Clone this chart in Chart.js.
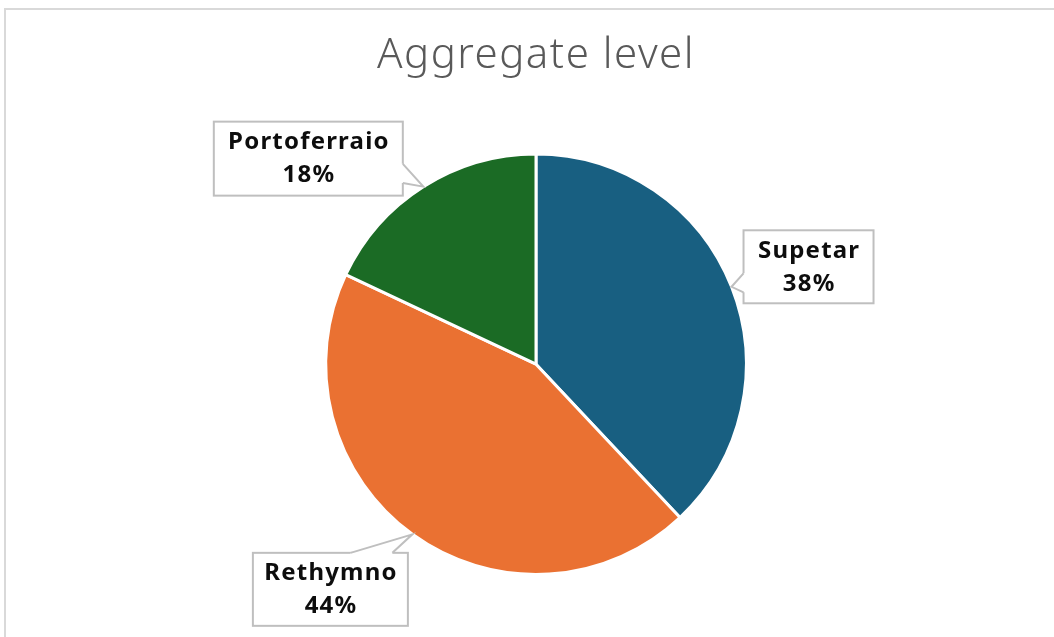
<!DOCTYPE html>
<html>
<head>
<meta charset="utf-8">
<script src="https://cdn.jsdelivr.net/npm/chart.js@4"></script>
<style>
  html, body { margin: 0; padding: 0; background: #fff; overflow: hidden; }
  #frame { position: absolute; left: 4px; top: 8px; width: 1200px; height: 800px; border: 2px solid #d9d9d9; }
  #wrap { position: absolute; left: 0; top: 0; width: 1054px; height: 637px; }
</style>
</head>
<body>
<div id="frame"></div>
<div id="wrap"><canvas id="chart"></canvas></div>
<script>
  const categories = ["Supetar", "Rethymno", "Portoferraio"];
  const shares = [38, 44, 18];
  const sliceColors = ["#185f81", "#ea7132", "#1b6b25"];

  // callout boxes, placed relative to the tip on the slice edge
  const callouts = [
    { dx: 77, dy: -20, w: 130, h: 73, side: "left", from: 0.59, to: 0.85 },
    { dx: -82, dy: 55, w: 155, h: 73, side: "top", from: 0.63, to: 0.9 },
    { dx: -115, dy: -28, w: 189, h: 74, side: "right", from: 0.57, to: 0.83 },
  ];

  // wider title lettering, closer to the original font
  const spacingPlugin = {
    id: "spacing",
    beforeDraw(chart) { chart.ctx.letterSpacing = "1.5px"; },
    beforeDatasetsDraw(chart) { chart.ctx.letterSpacing = "0px"; },
  };

  const calloutPlugin = {
    id: "callouts",
    afterDatasetsDraw(chart) {
      const { ctx } = chart;
      const meta = chart.getDatasetMeta(0);
      meta.data.forEach((arc, i) => {
        const c = callouts[i];
        const mid = (arc.startAngle + arc.endAngle) / 2;
        const tx = arc.x + Math.cos(mid) * arc.outerRadius;
        const ty = arc.y + Math.sin(mid) * arc.outerRadius;
        const cx = tx + c.dx, cy = ty + c.dy;
        const x0 = cx - c.w / 2, y0 = cy - c.h / 2;

        ctx.save();
        ctx.lineWidth = 2;
        ctx.strokeStyle = "#bfbfbf";
        ctx.fillStyle = "#fff";
        ctx.fillRect(x0, y0, c.w, c.h);
        ctx.strokeRect(x0, y0, c.w, c.h);

        let a, b, ai, bi;
        if (c.side === "left") {
          a = [x0, y0 + c.h * c.from]; b = [x0, y0 + c.h * c.to];
          ai = [a[0] + 2, a[1]]; bi = [b[0] + 2, b[1]];
        } else if (c.side === "right") {
          a = [x0 + c.w, y0 + c.h * c.from]; b = [x0 + c.w, y0 + c.h * c.to];
          ai = [a[0] - 2, a[1]]; bi = [b[0] - 2, b[1]];
        } else {
          a = [x0 + c.w * c.from, y0]; b = [x0 + c.w * c.to, y0];
          ai = [a[0], a[1] + 2]; bi = [b[0], b[1] + 2];
        }
        ctx.beginPath();
        ctx.moveTo(ai[0], ai[1]);
        ctx.lineTo(a[0], a[1]);
        ctx.lineTo(tx, ty);
        ctx.lineTo(b[0], b[1]);
        ctx.lineTo(bi[0], bi[1]);
        ctx.closePath();
        ctx.fill();
        ctx.beginPath();
        ctx.moveTo(a[0], a[1]);
        ctx.lineTo(tx, ty);
        ctx.lineTo(b[0], b[1]);
        ctx.stroke();

        ctx.fillStyle = "#0d0d0d";
        ctx.font = "bold 24px 'Noto Sans', sans-serif";
        ctx.letterSpacing = "1.2px";
        ctx.textAlign = "center";
        ctx.textBaseline = "middle";
        ctx.fillText(categories[i], cx + 0.6, cy - 16);
        ctx.fillText(shares[i] + "%", cx + 0.6, cy + 17);
        ctx.restore();
      });
    },
  };

  new Chart(document.getElementById("chart"), {
    type: "pie",
    data: {
      labels: categories,
      datasets: [{
        data: shares,
        backgroundColor: sliceColors,
        borderColor: "#fff",
        borderWidth: 3,
      }],
    },
    options: {
      responsive: true,
      maintainAspectRatio: false,
      animation: false,
      layout: { padding: { left: 18, right: 0, top: 0, bottom: 61 } },
      plugins: {
        legend: { display: false },
        tooltip: { enabled: false },
        title: {
          display: true,
          text: "Aggregate level",
          color: "#595959",
          font: { family: "'Noto Sans', sans-serif", size: 42, weight: "300", lineHeight: 1.2 },
          padding: { top: 31, bottom: 71 },
        },
      },
    },
    plugins: [spacingPlugin, calloutPlugin],
  });
</script>
</body>
</html>
